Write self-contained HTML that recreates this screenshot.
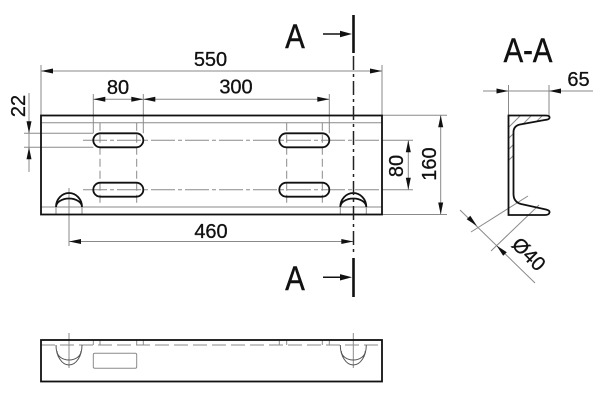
<!DOCTYPE html>
<html><head><meta charset="utf-8"><style>
html,body{margin:0;padding:0;background:#fff;}
svg{display:block;}
text{font-family:"Liberation Sans","DejaVu Sans",sans-serif;fill:#111;}
</style></head><body>
<svg width="600" height="400" viewBox="0 0 600 400" xmlns="http://www.w3.org/2000/svg">
<defs>
<clipPath id="ch"><path d="M508.5,115.5 H546 Q550,115.5 549.5,118 Q549,119.5 546,119.8 L520,124.5 Q513.5,126 513.5,132 V194 Q513.5,202 521,204 L546,209.5 Q550,210.5 549.5,212.5 Q549,215 545,215 H508.5 Z"/></clipPath>
</defs>

<g stroke="#8a8a8a" stroke-width="1" fill="none">
  <path d="M41,65 V115.5 M382,65 V115.5 M41,71 H382"/>
  <path d="M93.3,94 V133.3 M143.3,94 V133.3 M329.3,94 V133.3 M93.3,99.3 H329.3"/>
  <path d="M24,133.3 H93.3 M24,147.3 H93.3 M29,93 V172"/>
  <path d="M41,122.7 H382 M41,207 H382"/>
  <path d="M382,115.3 H447 M382,214.5 H447 M440.7,115.3 V214.5 M408.3,140.3 V189.7"/>
  <path d="M382,140.3 H413 M382,189.7 H413"/>
  <path d="M83,140.3 H382 M83,189.7 H382" stroke-dasharray="24 3 4 3"/>
  <path d="M100,122.7 V207 M136.7,122.7 V207 M286.7,122.7 V207 M322.3,122.7 V207" stroke-dasharray="8 4"/>
  <path d="M56,207 V214.5 M82,207 V214.5 M340.3,207 V214.5 M366.3,207 V214.5"/>
  <path d="M69,188 V246 M69,241.5 H353.3"/>
  <path d="M508.5,85 V115.5 M549,85 V115.5 M483,91 H593"/>
  <path d="M460,210 L535,283 M528,196 L471,232 M539,205 L491,251"/>
  <g clip-path="url(#ch)">
    <path d="M560,65 L460,165 M571,65 L471,165 M582,65 L482,165 M593,65 L493,165 M604,65 L504,165 M615,65 L515,165 M626,65 L526,165 M637,65 L537,165 M648,65 L548,165 M659,65 L559,165 M670,65 L570,165 M681,65 L581,165 M692,65 L592,165 M703,65 L603,165 M714,65 L614,165 M725,65 L625,165 M736,65 L636,165"/>
  </g>
  <path d="M41,345 H382" stroke-dasharray="14 5"/>
  <path d="M93.3,340 V345 M100,340 V345 M136.7,340 V345 M143.3,340 V345 M279.3,340 V345 M286.7,340 V345 M322.3,340 V345 M329.3,340 V345"/>
  <path d="M69,333 V368 M353.3,333 V368"/>
  <rect x="93.3" y="353.3" width="43.4" height="15" rx="1.5"/>
</g>

<g stroke="#555" stroke-width="1" fill="none">
  <path d="M56,345 A13,20 0 0 0 82,345 M57,351 A12,9 0 0 0 81,351"/>
  <path d="M340.3,345 A13,20 0 0 0 366.3,345 M341.3,351 A12,9 0 0 0 365.3,351"/>
</g>

<g stroke="#111" stroke-width="1.8" fill="none">
  <rect x="41" y="115.5" width="341" height="99"/>
  <rect x="93.3" y="133.3" width="50" height="14" rx="7"/>
  <rect x="93.3" y="182.7" width="50" height="14" rx="7"/>
  <rect x="279.3" y="133.3" width="50" height="14" rx="7"/>
  <rect x="279.3" y="182.7" width="50" height="14" rx="7"/>
  <path d="M56,207 A13,14 0 0 1 82,207 M56,207 A13,8.5 0 0 1 82,207"/>
  <path d="M340.3,207 A13,14 0 0 1 366.3,207 M340.3,207 A13,8.5 0 0 1 366.3,207"/>
  <path d="M508.5,115.5 H546 Q550,115.5 549.5,118 Q549,119.5 546,119.8 L520,124.5 Q513.5,126 513.5,132 V194 Q513.5,202 521,204 L546,209.5 Q550,210.5 549.5,212.5 Q549,215 545,215 H508.5 Z"/>
  <rect x="41" y="340" width="341" height="41.5"/>
</g>

<path d="M353.5,56 V255" stroke="#222" stroke-width="1.5" stroke-dasharray="14 4 3 4" fill="none"/>
<path d="M353.5,15 V53 M353.5,258 V297" stroke="#111" stroke-width="2.6" fill="none"/>
<path d="M323,34 H342 M323,277.3 H342" stroke="#111" stroke-width="1.5" fill="none"/>

<g fill="#111" stroke="none">
  <polygon points="352,34 340,30.8 340,37.2"/>
  <polygon points="352,277.3 340,274.1 340,280.5"/>
  <polygon points="41,71 53,68.5 53,73.5"/>
  <polygon points="382,71 370,68.5 370,73.5"/>
  <polygon points="93.3,99.3 105.3,96.8 105.3,101.8"/>
  <polygon points="143.3,99.3 131.3,96.8 131.3,101.8"/>
  <polygon points="143.3,99.3 155.3,96.8 155.3,101.8"/>
  <polygon points="329.3,99.3 317.3,96.8 317.3,101.8"/>
  <polygon points="69,241.5 81,239 81,244"/>
  <polygon points="353.3,241.5 341.3,239 341.3,244"/>
  <polygon points="29,133.3 26.5,121.3 31.5,121.3"/>
  <polygon points="29,147.3 26.5,159.3 31.5,159.3"/>
  <polygon points="408.3,140.3 405.8,152.3 410.8,152.3"/>
  <polygon points="408.3,189.7 405.8,177.7 410.8,177.7"/>
  <polygon points="440.7,115.3 438.2,127.3 443.2,127.3"/>
  <polygon points="440.7,214.5 438.2,202.5 443.2,202.5"/>
  <polygon points="508.5,91 496.5,88.5 496.5,93.5"/>
  <polygon points="549,91 561,88.5 561,93.5"/>
  <polygon points="477,226 470.3,215.7 466.7,219.3"/>
  <polygon points="496.5,245.5 503.2,255.8 506.8,252.2"/>
</g>

<g font-size="20" text-anchor="middle" stroke="#111" stroke-width="0.3">
  <text x="210.5" y="66">550</text>
  <text x="118" y="94">80</text>
  <text x="236" y="93.5">300</text>
  <text x="211" y="238">460</text>
  <text transform="translate(25,106) rotate(-90)">22</text>
  <text transform="translate(403,166) rotate(-90)">80</text>
  <text transform="translate(436,164) rotate(-90)">160</text>
  <text x="578.5" y="86">65</text>
  <text transform="translate(524,259) rotate(45)">Ø40</text>
</g>
<g font-size="34" text-anchor="middle" stroke="#111" stroke-width="0.5">
  <text transform="translate(295,48) scale(0.86,1)">A</text>
  <text transform="translate(295,290) scale(0.86,1)">A</text>
  <text transform="translate(528,62) scale(0.86,1)">A-A</text>
</g>
</svg>
</body></html>
